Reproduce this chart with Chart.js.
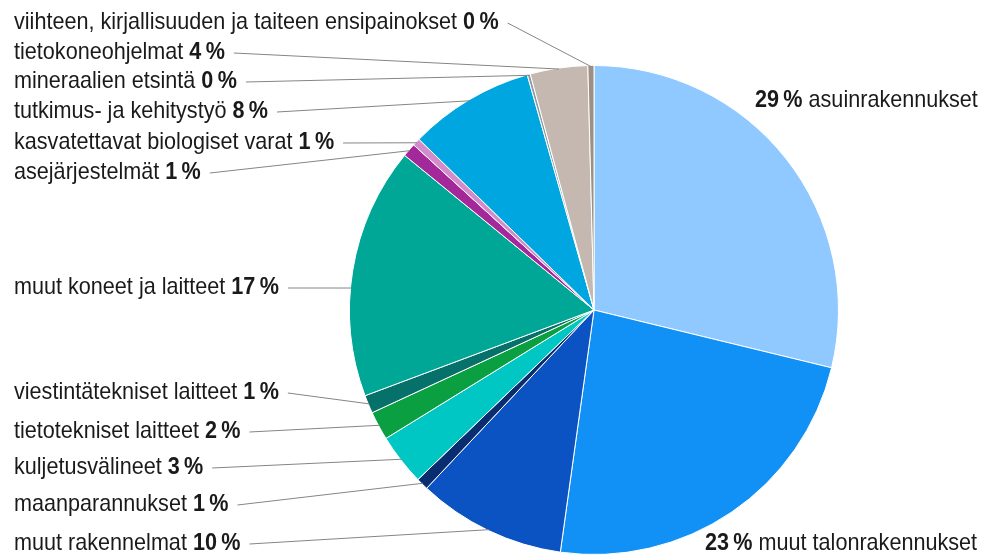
<!DOCTYPE html>
<html>
<head>
<meta charset="utf-8">
<script src="https://cdn.jsdelivr.net/npm/chart.js@4.4.1/dist/chart.umd.min.js"></script>
<style>
  html, body { margin: 0; padding: 0; background: #fff; }
  #wrap { width: 987px; height: 557px; position: relative; }
</style>
</head>
<body>
<div id="wrap"><canvas id="piirakka"></canvas></div>
<script>
  // Kiinteän pääoman bruttomuodostus omaisuuslajeittain, osuus %
  const luokat = [
    "asuinrakennukset",
    "muut talonrakennukset",
    "muut rakennelmat",
    "maanparannukset",
    "kuljetusvälineet",
    "tietotekniset laitteet",
    "viestintätekniset laitteet",
    "muut koneet ja laitteet",
    "asejärjestelmät",
    "kasvatettavat biologiset varat",
    "tutkimus- ja kehitystyö",
    "mineraalien etsintä",
    "tietokoneohjelmat",
    "viihteen, kirjallisuuden ja taiteen ensipainokset"
  ];
  const osuudet = [28.8, 23.4, 9.8, 0.8, 3.4, 1.9, 1.2, 16.6, 0.9, 0.5, 8.3, 0.2, 3.8, 0.4];
  const varit = [
    "#8fc9ff", "#1190f5", "#0b52c2", "#0a2d72", "#00c7c4", "#0aa041", "#06716a",
    "#00a796", "#a3289a", "#d38bcc", "#00a6df", "#8d9ca2", "#c5b8b0", "#9d8f83"
  ];

  // tekstien sijainnit (vasen sarake / oikea puoli); osa = viivan kiinnityskohta siivussa
  const tekstiPaikat = [
    { x: 755, y: 100, puoli: "oikea" },
    { x: 705, y: 543, puoli: "oikea" },
    { x: 14, y: 543 },
    { x: 14, y: 504 },
    { x: 14, y: 467 },
    { x: 14, y: 431 },
    { x: 14, y: 392 },
    { x: 14, y: 287, osa: 0.43 },
    { x: 14, y: 172 },
    { x: 14, y: 142 },
    { x: 14, y: 111 },
    { x: 14, y: 81 },
    { x: 14, y: 52 },
    { x: 14, y: 22 }
  ];

  const FONTTI = "Liberation Sans, Arial, sans-serif";
  const KOKO = 24;
  const KAVENNUS = 0.9;

  function pyoristys(v) {
    return Math.round(v) + "\u202F%";
  }

  function piirraTeksti(ctx, teksti, x, y, lihava) {
    ctx.font = (lihava ? "bold " : "") + KOKO + "px " + FONTTI;
    ctx.save();
    ctx.translate(x, y);
    ctx.scale(KAVENNUS, 1);
    ctx.fillText(teksti, 0, 0);
    ctx.restore();
    return ctx.measureText(teksti).width * KAVENNUS;
  }

  const tekstiPlugin = {
    id: "tekstit",
    afterDraw(chart) {
      const ctx = chart.ctx;
      const kaaret = chart.getDatasetMeta(0).data;
      ctx.save();
      ctx.fillStyle = "#1a1a1a";
      ctx.textBaseline = "middle";
      ctx.textAlign = "left";
      luokat.forEach((nimi, i) => {
        const p = tekstiPaikat[i];
        const pros = pyoristys(osuudet[i]);
        if (p.puoli === "oikea") {
          let x = p.x;
          x += piirraTeksti(ctx, pros, x, p.y, true);
          piirraTeksti(ctx, " " + nimi, x, p.y, false);
          return;
        }
        let x = p.x;
        x += piirraTeksti(ctx, nimi + " ", x, p.y, false);
        x += piirraTeksti(ctx, pros, x, p.y, true);
        const kaari = kaaret[i];
        const osa = p.osa === undefined ? 0.5 : p.osa;
        const kulma = kaari.startAngle + (kaari.endAngle - kaari.startAngle) * osa;
        const r = kaari.outerRadius - 1;
        const kx = kaari.x + Math.cos(kulma) * r;
        const ky = kaari.y + Math.sin(kulma) * r;
        ctx.strokeStyle = "#858585";
        ctx.lineWidth = 1;
        ctx.beginPath();
        ctx.moveTo(x + 9, p.y + 1);
        ctx.lineTo(kx, ky);
        ctx.stroke();
      });
      ctx.restore();
    }
  };

  new Chart(document.getElementById("piirakka"), {
    type: "pie",
    data: {
      labels: luokat,
      datasets: [{
        data: osuudet,
        backgroundColor: varit,
        borderColor: "#ffffff",
        borderWidth: 1
      }]
    },
    options: {
      responsive: true,
      maintainAspectRatio: false,
      animation: false,
      layout: { padding: { left: 349, right: 148, top: 65, bottom: 2 } },
      plugins: {
        legend: { display: false },
        tooltip: { enabled: false }
      }
    },
    plugins: [tekstiPlugin]
  });
</script>
</body>
</html>
